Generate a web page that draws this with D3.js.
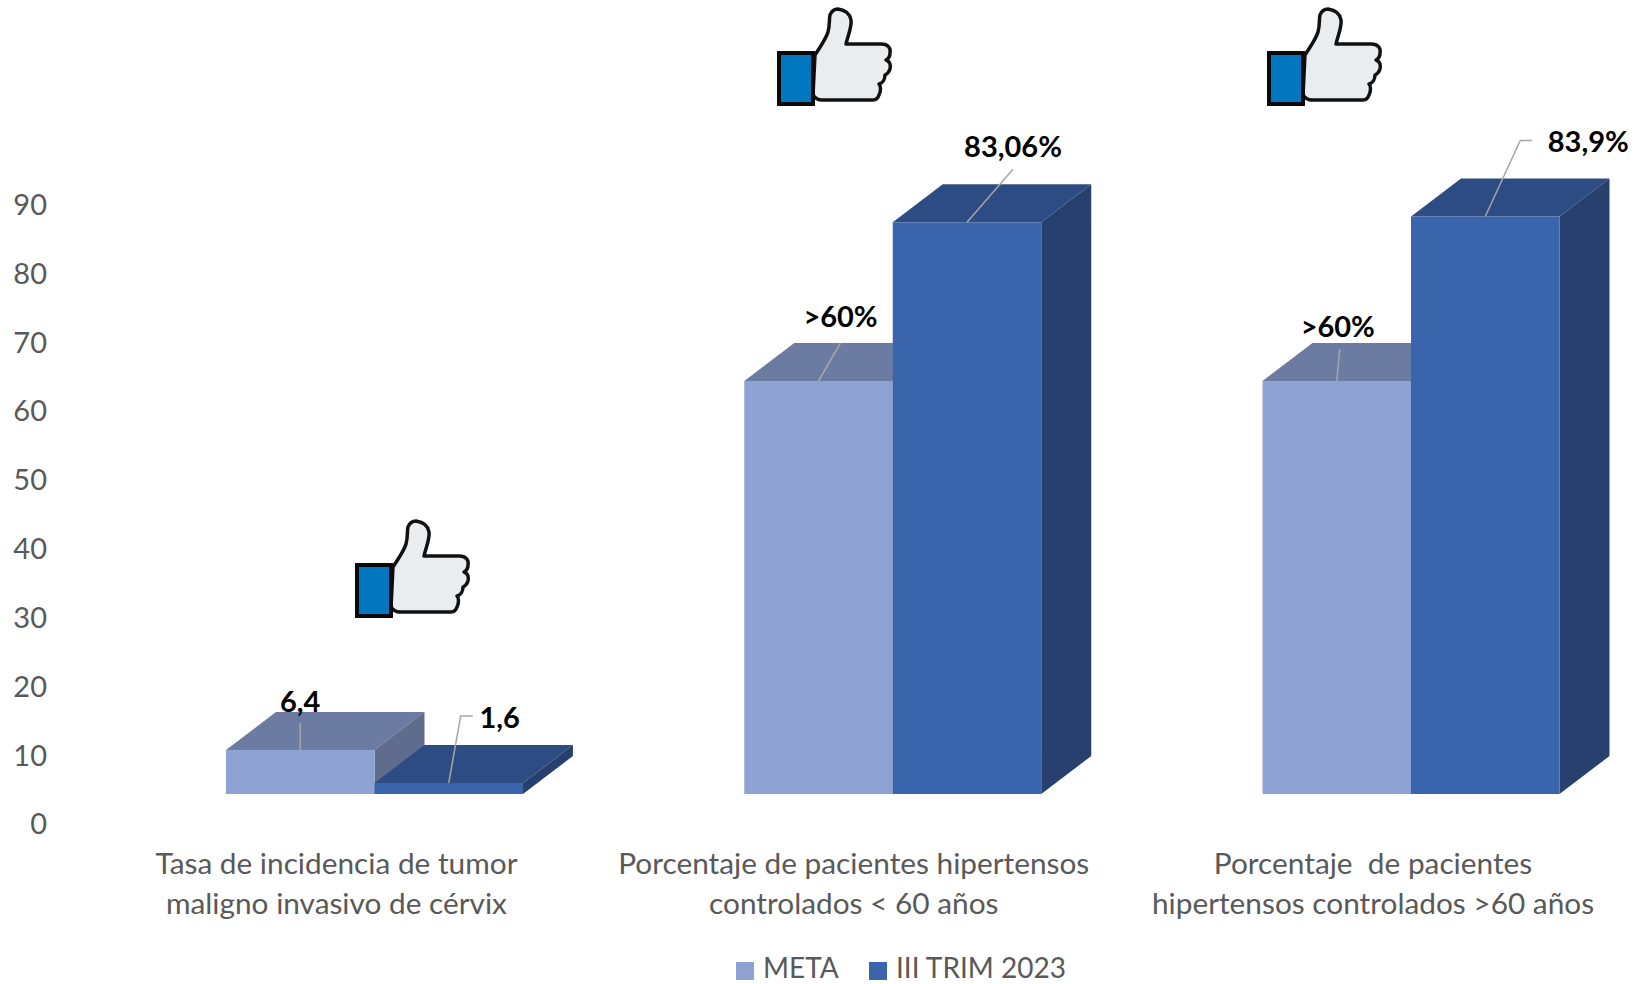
<!DOCTYPE html>
<html><head><meta charset="utf-8">
<script src="https://cdn.jsdelivr.net/npm/d3@7"></script>
<style>html,body{margin:0;padding:0;background:#fff}svg{display:block}text{font-family:Lato,"Open Sans",sans-serif}</style>
</head><body><svg id="c" width="1636" height="984"></svg>
<script>
// Data
const categories = ["cervix", "htaMenor", "htaMayor"];
const categoryLines = [
  ["Tasa de incidencia de tumor", "maligno invasivo de cérvix"],
  ["Porcentaje de pacientes hipertensos", "controlados < 60 años"],
  ["Porcentaje  de pacientes", "hipertensos controlados >60 años"]
];
const seriesNames = ["META", "III TRIM 2023"];
const metaValues = [6.4, 60, 60];
const trimValues = [1.6, 83.06, 83.9];
const metaLabels = ["6,4", ">60%", ">60%"];
const trimLabels = ["1,6", "83,06%", "83,9%"];
const tickValues = [0, 10, 20, 30, 40, 50, 60, 70, 80, 90];
const approved = [true, true, true];

// Layout
const svg = d3.select("#c");
const depth = {x: 50, y: 38};
const x0 = d3.scaleBand().domain(categories).range([226, 1559.5]).paddingInner(0.427);
const x1 = d3.scaleBand().domain(seriesNames).range([0, x0.bandwidth()]);
const y = d3.scaleLinear().domain([0, 90]).range([794, 174.5]);
const palette = {
  "META": {front: "#8fa2d4", top: "#6c7ba1", side: "#5f6c8e"},
  "III TRIM 2023": {front: "#3a64ac", top: "#2d4c84", side: "#27406d"}
};
const grey = "#595959";

// Axis (the 3D floor sits below the bars' front edge)
const axisG = svg.append("g").attr("transform", "translate(47,30)")
  .call(d3.axisLeft(y).tickValues(tickValues).tickSize(0).tickPadding(0));
axisG.select(".domain").remove();
axisG.selectAll("text").attr("fill", grey).style("font-size", "29px").style("font-family", "Lato").attr("dy", "0.34em");

// Bars
const seriesValues = [metaValues, trimValues];
const poly = pts => "M" + pts.map(p => p.join(",")).join("L") + "Z";
seriesNames.forEach((s, si) => {
  const g = svg.append("g");
  categories.forEach((c, ci) => {
    const v = seriesValues[si][ci];
    const l = x0(c) + x1(s), r = l + x1.bandwidth(), t = y(v), b = y(0);
    const dx = depth.x, dy = depth.y;
    g.append("path").attr("d", poly([[l, t], [l + dx, t - dy], [r + dx, t - dy], [r, t]])).attr("fill", palette[s].top);
    g.append("path").attr("d", poly([[r, t], [r + dx, t - dy], [r + dx, b - dy], [r, b]])).attr("fill", palette[s].side);
    g.append("rect").attr("x", l).attr("y", t).attr("width", r - l).attr("height", b - t).attr("fill", palette[s].front);
  });
});

// Data labels with leader lines; offsets are relative to the bar's front-top centre
const labelLayout = [
  [{lx: 0, ly: -48, leader: [[0, 0], [0, -27]]},
   {lx: 51, ly: -65, leader: [[0, 0], [12, -67], [24, -67]]}],
  [{lx: 22, ly: -64, leader: [[0, 0], [22, -38]]},
   {lx: 46, ly: -75, leader: [[0, 0], [46, -53]]}],
  [{lx: 1, ly: -54, leader: [[0, 0], [3, -32]]},
   {lx: 103, ly: -75, leader: [[0, 0], [35, -76], [47, -76]]}]
];
const labelsBySeries = [metaLabels, trimLabels];
seriesNames.forEach((s, si) => {
  categories.forEach((c, ci) => {
    const cx = x0(c) + x1(s) + x1.bandwidth() / 2, cy = y(seriesValues[si][ci]);
    const L = labelLayout[ci][si];
    svg.append("path")
      .attr("d", d3.line()(L.leader.map(p => [cx + p[0], cy + p[1]])))
      .attr("fill", "none").attr("stroke", "#a6a6a6").attr("stroke-width", 1.5);
    svg.append("text").attr("x", cx + L.lx).attr("y", cy + L.ly).attr("dy", "0.35em")
      .attr("text-anchor", "middle").attr("fill", "#000")
      .style("font-size", "29px").style("font-weight", 700)
      .text(labelsBySeries[si][ci]);
  });
});

// Category labels
categories.forEach((c, ci) => {
  const cx = x0(c) + x0.bandwidth() / 2 + [-38, -39, -38][ci];
  categoryLines[ci].forEach((line, li) => {
    svg.append("text").attr("x", cx).attr("y", 864 + li * 39.5).attr("dy", "0.35em")
      .attr("text-anchor", "middle").attr("fill", grey)
      .attr("xml:space", "preserve").style("white-space", "pre")
      .style("font-size", "29.8px").text(line);
  });
});

// Legend
const legendX = [736, 869];
seriesNames.forEach((s, i) => {
  svg.append("rect").attr("x", legendX[i]).attr("y", 962).attr("width", 18).attr("height", 18).attr("fill", palette[s].front);
  svg.append("text").attr("x", legendX[i] + 27).attr("y", 978).attr("fill", grey)
    .style("font-size", "28px").text(s);
});

// Thumbs-up icons
const hand = "M38,4 C43,-4 49,-12 51,-19 C53,-26 52,-32 53,-36 C55,-41 58,-42 61,-42 C68,-41 73,-37 74,-31 C75,-24 71,-16 69,-7 L104,-7 C111,-7 114,-3 113,2 C113,5 111,8 109,9 C113,10 114,15 113,18 C112,21 110,23 108,24 C108,28 106,32 102,33 C104,35 104,40 102,44 C101,47 99,49 96,49 L45,49 C41,49 38,47 36,44 Z";
const iconPos = [[355, 563], [777, 51], [1267, 51]];
approved.forEach((a, i) => {
  if (!a) return;
  const g = svg.append("g").attr("transform", `translate(${iconPos[i][0]},${iconPos[i][1]})`);
  g.append("path").attr("d", hand).attr("fill", "#e9edf0").attr("stroke", "#111").attr("stroke-width", 3.5).attr("stroke-linejoin", "round");
  g.append("rect").attr("x", 2).attr("y", 2).attr("width", 34).attr("height", 51).attr("fill", "#0077bf").attr("stroke", "#0a0a0a").attr("stroke-width", 4);
});
</script></body></html>
